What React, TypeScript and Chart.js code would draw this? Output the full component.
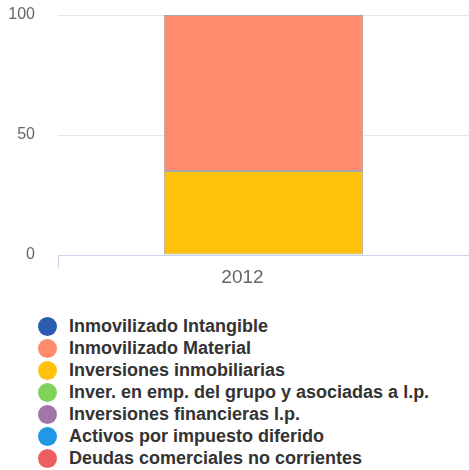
import React, { useEffect, useRef } from "react";
import { Chart, registerables } from "chart.js";

Chart.register(...registerables);

const categories: string[] = ["2012"];
const seriesNames: string[] = [
  "Inmovilizado Intangible",
  "Inmovilizado Material",
  "Inversiones inmobiliarias",
  "Inver. en emp. del grupo y asociadas a l.p.",
  "Inversiones financieras l.p.",
  "Activos por impuesto diferido",
  "Deudas comerciales no corrientes",
];
const seriesColors: string[] = [
  "#2a5db0",
  "#ff8a6e",
  "#ffc10a",
  "#7ed35a",
  "#a274a8",
  "#2198e6",
  "#ec5f5f",
];
const intangible: number[] = [0];
const material: number[] = [65];
const inmobiliarias: number[] = [35];
const grupo: number[] = [0];
const financieras: number[] = [0];
const diferido: number[] = [0];
const deudas: number[] = [0];
const seriesValues: number[][] = [intangible, material, inmobiliarias, grupo, financieras, diferido, deudas];
const yTicks: number[] = [0, 50, 100];

const FONT = "'Liberation Sans', Arial, sans-serif";

export default function App() {
  const ref = useRef<HTMLCanvasElement | null>(null);

  useEffect(() => {
    if (!ref.current) return;
    // last series stacks at the bottom (reverse order)
    const datasets = seriesNames
      .map((name, i) => ({
        label: name,
        data: seriesValues[i].map((v) => (v === 0 ? null : v)),
        backgroundColor: seriesColors[i],
        borderColor: "#a9a9a9",
        borderWidth: 1,
        borderSkipped: false as const,
        categoryPercentage: 1,
        barPercentage: 0.485,
      }))
      .reverse();

    const chart = new Chart(ref.current, {
      type: "bar",
      data: { labels: categories, datasets },
      options: {
        animation: false,
        responsive: false,
        maintainAspectRatio: false,
        layout: { padding: { top: 15, right: 0, left: 0, bottom: 0 } },
        plugins: { legend: { display: false }, tooltip: { enabled: false } },
        scales: {
          x: {
            stacked: true,
            offset: true,
            border: { display: true, color: "#ccd6eb", width: 1 },
            grid: {
              display: true,
              drawOnChartArea: false,
              drawTicks: true,
              tickLength: 13,
              color: "#ccd6eb",
              offset: true,
            },
            ticks: {
              color: "#666666",
              font: { family: FONT, size: 19 },
              padding: -2,
              labelOffset: -21,
              maxRotation: 0,
            },
            afterFit: (scale: any) => {
              scale.height = 45;
            },
          },
          y: {
            stacked: true,
            min: 0,
            max: 100,
            afterBuildTicks: (scale: any) => {
              scale.ticks = yTicks.map((v) => ({ value: v }));
            },
            border: { display: false },
            grid: {
              color: "#e6e6e6",
              drawTicks: true,
              tickLength: 23,
              tickColor: "rgba(0,0,0,0)",
              lineWidth: 1,
            },
            ticks: {
              color: "#666666",
              font: { family: FONT, size: 16 },
              padding: 0,
            },
            afterFit: (scale: any) => {
              scale.width = 58;
            },
          },
        },
      },
    });
    return () => chart.destroy();
  }, []);

  return (
    <div style={{ position: "absolute", left: 0, top: 0, width: 469, height: 470, background: "#fff" }}>
      <canvas ref={ref} width={469} height={300} style={{ display: "block", width: 469, height: 300 }} />
      <div
        style={{
          position: "absolute",
          left: 38,
          top: 316,
          fontFamily: FONT,
          fontWeight: "bold",
          fontSize: 18,
          color: "#333333",
        }}
      >
        {seriesNames.map((name, i) => (
          <div key={name} style={{ display: "flex", alignItems: "center", height: 21.9, whiteSpace: "nowrap" }}>
            <span
              style={{
                display: "inline-block",
                width: 19,
                height: 19,
                borderRadius: "50%",
                background: seriesColors[i],
                marginRight: 12,
                flex: "none",
              }}
            />
            <span>{name}</span>
          </div>
        ))}
      </div>
    </div>
  );
}
